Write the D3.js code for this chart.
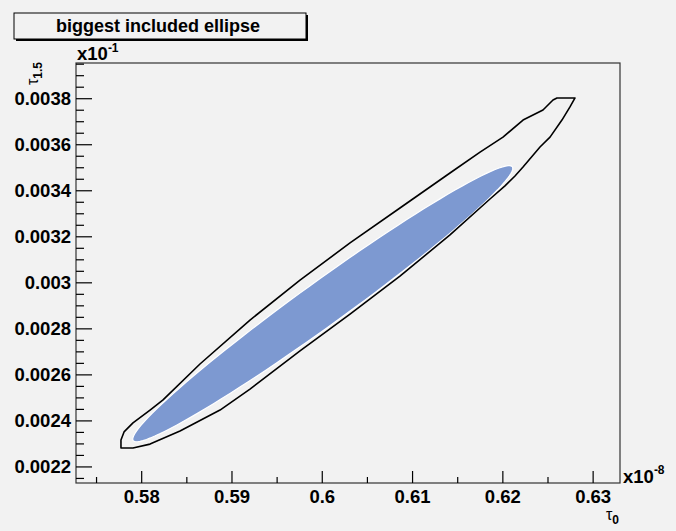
<!DOCTYPE html>
<html>
<head>
<meta charset="utf-8">
<script src="https://cdn.jsdelivr.net/npm/d3@7"></script>
<style>
  body { margin: 0; background: #f2f2f2; }
  text { font-family: "Liberation Sans", Arial, sans-serif; }
</style>
</head>
<body>
<div id="chart"></div>
<script>
// chart data
var chartTitle = "biggest included ellipse";

var xTicks = [0.58, 0.59, 0.60, 0.61, 0.62, 0.63];
var xTickLabels = ["0.58", "0.59", "0.6", "0.61", "0.62", "0.63"];
var yTicks = [0.0022, 0.0024, 0.0026, 0.0028, 0.0030, 0.0032, 0.0034, 0.0036, 0.0038];
var yTickLabels = ["0.0022", "0.0024", "0.0026", "0.0028", "0.003", "0.0032", "0.0034", "0.0036", "0.0038"];

// contour outline, x = tau0 (x10^-8), y = tau1.5 (x10^-1)
var contourX = [0.57776, 0.57810, 0.57909, 0.58098, 0.58242, 0.58651, 0.59205, 0.59759,
  0.60313, 0.60866, 0.61420, 0.61753, 0.62007, 0.62229, 0.62450, 0.62561, 0.62605,
  0.62805, 0.62749, 0.62660, 0.62528, 0.62417, 0.62229, 0.62140, 0.62029, 0.61863,
  0.61420, 0.60866, 0.60313, 0.59759, 0.59205, 0.58873, 0.58430, 0.58098, 0.57909,
  0.57776];
var contourY = [0.002315, 0.002350, 0.002389, 0.002445, 0.002489, 0.002645, 0.002836, 0.003010,
  0.003171, 0.003323, 0.003475, 0.003566, 0.003631, 0.003705, 0.003749, 0.003792, 0.003801,
  0.003801, 0.003762, 0.003705, 0.003631, 0.003588, 0.003501, 0.003462, 0.003419, 0.003362,
  0.003206, 0.003027, 0.002862, 0.002702, 0.002536, 0.002445, 0.002354, 0.002297, 0.002280,
  0.002280];

// ellipse: centre and the two semi-axis vectors, in data units
var ellipseCenter = [0.60011, 0.002907];
var ellipseMajor = [0.02100, 0.000595];
var ellipseMinor = [0.001435, -0.0000773];

var svgWidth = 676;
var svgHeight = 531;
var frame = { left: 76, right: 620, top: 63, bottom: 483 };

var svg = d3.select("#chart")
  .append("svg")
  .attr("width", svgWidth)
  .attr("height", svgHeight)
  .style("background", "#f2f2f2");

var xScale = d3.scaleLinear()
  .domain([0.57278, 0.63303])
  .range([frame.left, frame.right]);

var yScale = d3.scaleLinear()
  .domain([0.002128, 0.003953])
  .range([frame.bottom, frame.top]);

// ellipse outline from its centre/axes
var ellipsePts = d3.range(0, 361, 3).map(function(a) {
  var t = a * Math.PI / 180;
  return [
    ellipseCenter[0] + Math.cos(t) * ellipseMajor[0] + Math.sin(t) * ellipseMinor[0],
    ellipseCenter[1] + Math.cos(t) * ellipseMajor[1] + Math.sin(t) * ellipseMinor[1]
  ];
});

var line = d3.line()
  .x(d => xScale(d[0]))
  .y(d => yScale(d[1]));

svg.append("path")
  .datum(ellipsePts)
  .attr("d", d => line(d) + "Z")
  .attr("fill", "#7d99d1")
  .attr("stroke", "#ffffff")
  .attr("stroke-width", 1.2);

svg.append("path")
  .datum(contourX.map((x, i) => [x, contourY[i]]))
  .attr("d", d => line(d) + "Z")
  .attr("fill", "none")
  .attr("stroke", "#000")
  .attr("stroke-width", 1.6)
  .attr("stroke-linejoin", "round");

// frame
svg.append("rect")
  .attr("x", frame.left)
  .attr("y", frame.top)
  .attr("width", frame.right - frame.left)
  .attr("height", frame.bottom - frame.top)
  .attr("fill", "none")
  .attr("stroke", "#333")
  .attr("stroke-width", 1.2);

// x axis, ticks point up into the frame
var xAxis = d3.axisTop(xScale)
  .tickValues(xTicks)
  .tickSize(12)
  .tickFormat((d, i) => xTickLabels[i]);
var xMinor = d3.axisTop(xScale)
  .tickValues(d3.range(0.575, 0.6301, 0.01))
  .tickSize(6)
  .tickFormat("");

var gx = svg.append("g")
  .attr("transform", `translate(0, ${frame.bottom})`)
  .call(xAxis);
svg.append("g")
  .attr("transform", `translate(0, ${frame.bottom})`)
  .call(xMinor);
gx.selectAll("text")
  .attr("y", 20)
  .attr("dy", "0")
  .style("font-size", "18.5px")
  .style("font-weight", "bold")
  .style("fill", "#000");

// y axis, ticks point right into the frame
var yAxis = d3.axisRight(yScale)
  .tickValues(yTicks)
  .tickSize(16)
  .tickFormat((d, i) => yTickLabels[i]);
var yMinor = d3.axisRight(yScale)
  .tickValues(d3.range(0.00215, 0.003951, 0.00005).filter(v => Math.abs(Math.round(v / 0.0002) * 0.0002 - v) > 1e-7))
  .tickSize(8)
  .tickFormat("");

var gy = svg.append("g")
  .attr("transform", `translate(${frame.left}, 0)`)
  .call(yAxis);
svg.append("g")
  .attr("transform", `translate(${frame.left}, 0)`)
  .call(yMinor);
gy.selectAll("text")
  .attr("x", -5)
  .attr("dy", "0.35em")
  .attr("text-anchor", "end")
  .style("font-size", "18.5px")
  .style("font-weight", "bold")
  .style("fill", "#000");

svg.selectAll(".domain").remove();
svg.selectAll(".tick line").attr("stroke", "#000").attr("stroke-width", 1.2);

// exponent labels
var ex = svg.append("text")
  .attr("x", 77)
  .attr("y", 60)
  .style("font-size", "18.5px")
  .style("font-weight", "bold");
ex.append("tspan").text("x10");
ex.append("tspan").attr("dy", -8).style("font-size", "12px").text("-1");

var ex8 = svg.append("text")
  .attr("x", 623)
  .attr("y", 483)
  .style("font-size", "18.5px")
  .style("font-weight", "bold");
ex8.append("tspan").text("x10");
ex8.append("tspan").attr("dy", -9).style("font-size", "12px").text("-8");

// axis titles
var xt = svg.append("text")
  .attr("x", 619)
  .attr("y", 520)
  .attr("text-anchor", "end")
  .style("font-size", "16px");
xt.append("tspan").text("τ");
xt.append("tspan").attr("dy", 4).style("font-size", "12px").style("font-weight", "bold").text("0");

var yt = svg.append("text")
  .attr("transform", "translate(38, 62) rotate(-90)")
  .attr("text-anchor", "end")
  .style("font-size", "16px");
yt.append("tspan").text("τ");
yt.append("tspan").attr("dy", 4).style("font-size", "12px").style("font-weight", "bold").text("1.5");

// title box with shadow
svg.append("rect")
  .attr("x", 16).attr("y", 15)
  .attr("width", 292).attr("height", 26)
  .attr("fill", "#000");
svg.append("rect")
  .attr("x", 14).attr("y", 13)
  .attr("width", 292).attr("height", 26)
  .attr("fill", "#f2f2f2")
  .attr("stroke", "#000")
  .attr("stroke-width", 1);
svg.append("text")
  .attr("x", 158)
  .attr("y", 32)
  .attr("text-anchor", "middle")
  .style("font-size", "18px")
  .style("font-weight", "bold")
  .text(chartTitle);
</script>
</body>
</html>
